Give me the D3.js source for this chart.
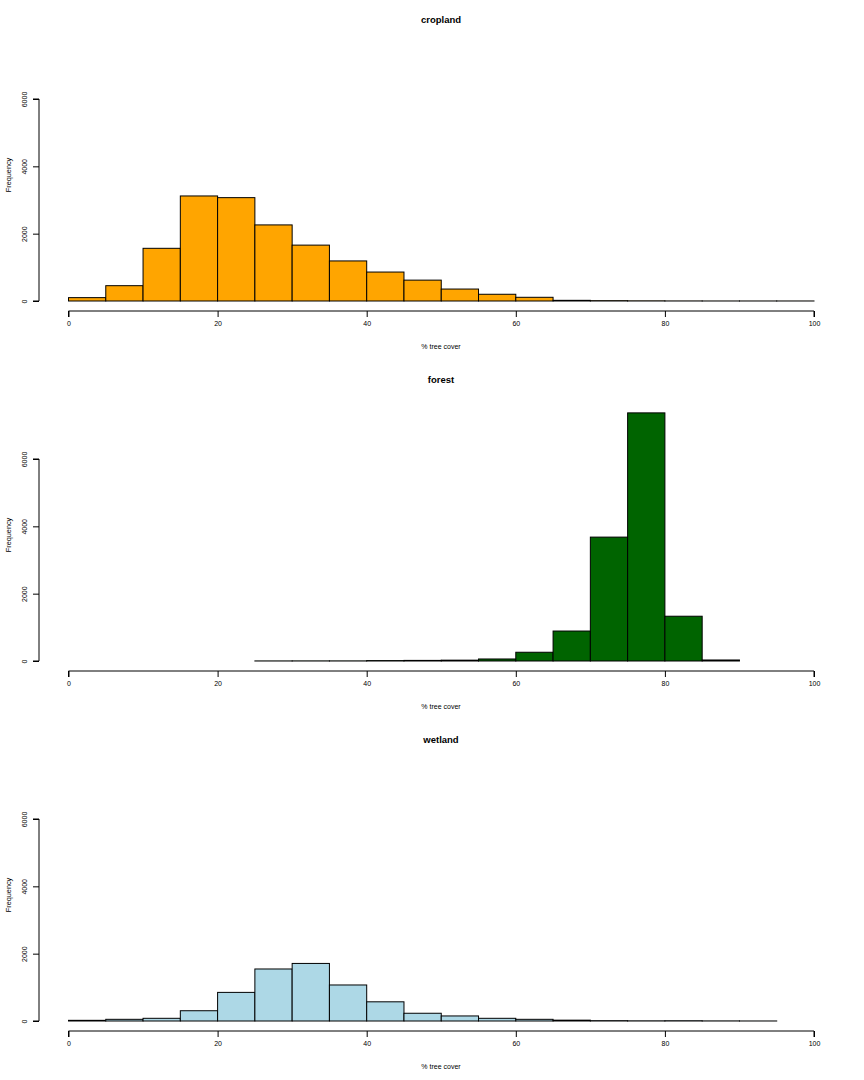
<!DOCTYPE html>
<html><head><meta charset="utf-8">
<script src="https://cdn.jsdelivr.net/npm/d3@7"></script>
<style>
html,body{margin:0;padding:0;background:#fff;}
text{font-family:"Liberation Sans",Arial,Helvetica,sans-serif;fill:#000;}
</style></head>
<body>
<svg id="chart" width="864" height="1080"></svg>
<script>
// ---- data ----
const panelTitles = ["cropland", "forest", "wetland"];
const panelColors = ["#FFA500", "#006400", "#ADD8E6"];
const binWidth = 5;
const croplandStart = 0;
const croplandCounts = [100, 455, 1565, 3120, 3070, 2260, 1660, 1190, 860, 620, 355, 200, 110, 20, 10, 5, 2, 1, 1, 1];
const forestStart = 25;
const forestCounts = [2, 3, 3, 12, 18, 25, 60, 260, 890, 3680, 7370, 1330, 30];
const wetlandStart = 0;
const wetlandCounts = [20, 50, 80, 305, 850, 1545, 1710, 1070, 570, 230, 150, 80, 50, 25, 10, 5, 8, 3, 1];
const xTicks = [0, 20, 40, 60, 80, 100];
const yTicks = [0, 2000, 4000, 6000];
const xLabel = "% tree cover";
const yLabel = "Frequency";

const series = [
  {start: croplandStart, counts: croplandCounts},
  {start: forestStart, counts: forestCounts},
  {start: wetlandStart, counts: wetlandCounts}
];

// ---- layout ----
const svg = d3.select("#chart");
const panelH = 360;
const x = d3.scaleLinear().domain([0, 100]).range([68.5, 814]);

series.forEach((s, i) => {
  const g = svg.append("g").attr("transform", `translate(0,${i * panelH})`);
  const y = d3.scaleLinear().domain([0, 6000]).range([301, 99]);

  const bins = s.counts.map((c, k) => ({x0: s.start + k * binWidth, x1: s.start + (k + 1) * binWidth, n: c}));

  g.selectAll("rect.bar").data(bins).enter().append("rect")
    .attr("class", "bar")
    .attr("x", d => x(d.x0))
    .attr("width", d => x(d.x1) - x(d.x0))
    .attr("y", d => y(d.n))
    .attr("height", d => y(0) - y(d.n))
    .attr("fill", panelColors[i])
    .attr("stroke", "#000")
    .attr("stroke-width", 1);

  // y axis
  const yAxis = d3.axisLeft(y).tickValues(yTicks).tickSize(6).tickFormat(d3.format("d"));
  const ya = g.append("g").attr("transform", "translate(39,0)").call(yAxis);
  ya.select(".domain").attr("d", `M-6,${y(0)}H0V${y(6000)}H-6`).attr("stroke", "#000");
  ya.selectAll(".tick text").attr("font-size", 7).attr("font-family", "Liberation Sans, Arial, sans-serif")
    .attr("text-anchor", "middle").attr("dy", 0).attr("x", 0)
    .attr("transform", "translate(-12,0) rotate(-90)");

  // x axis
  const xAxis = d3.axisBottom(x).tickValues(xTicks).tickSize(6).tickFormat(d3.format("d"));
  const xa = g.append("g").attr("transform", "translate(0,311)").call(xAxis);
  xa.select(".domain").attr("d", `M${x(0)},6V0H${x(100)}V6`).attr("stroke", "#000");
  xa.selectAll(".tick text").attr("font-size", 7).attr("font-family", "Liberation Sans, Arial, sans-serif")
    .attr("y", 13).attr("dy", "0.35em");

  // titles & labels
  g.append("text").attr("x", 441).attr("y", 23).attr("text-anchor", "middle")
    .attr("font-size", 9.5).attr("font-weight", "bold").text(panelTitles[i]);
  g.append("text").attr("x", 441).attr("y", 348.5).attr("text-anchor", "middle")
    .attr("font-size", 7).text(xLabel);
  g.append("text").attr("transform", "translate(10.5,175) rotate(-90)").attr("text-anchor", "middle")
    .attr("font-size", 7.3).text(yLabel);
});
</script>
</body></html>
